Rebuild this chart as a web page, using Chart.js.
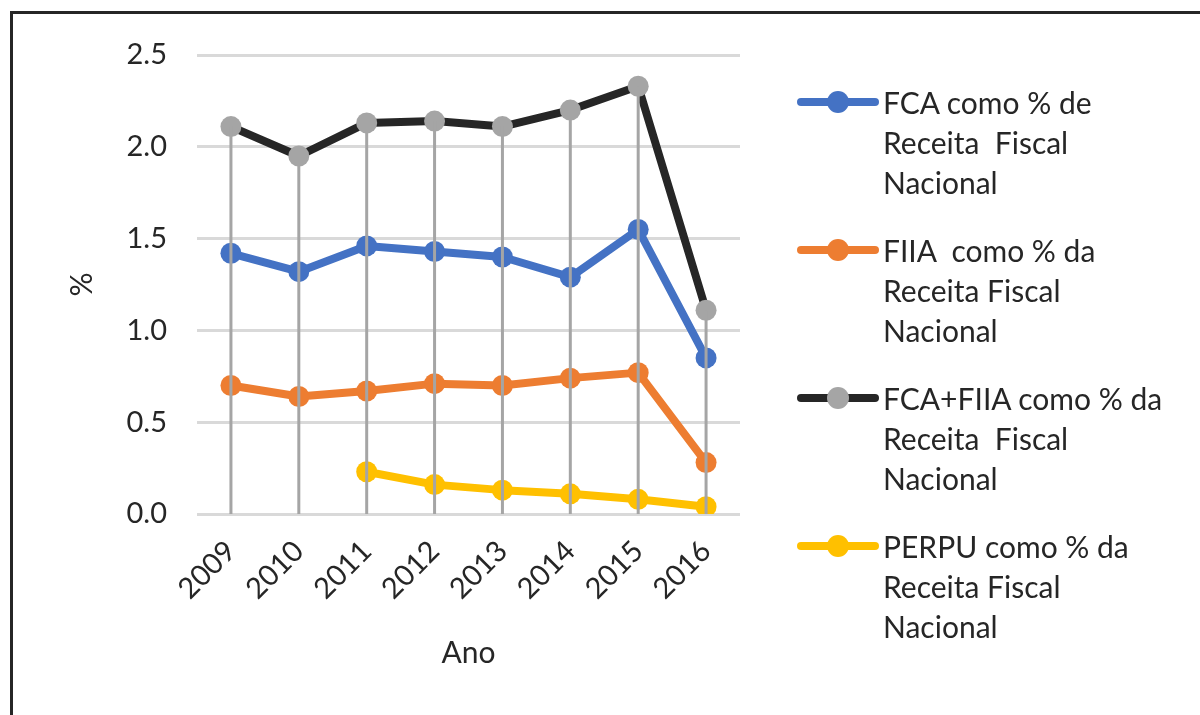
<!DOCTYPE html>
<html>
<head>
<meta charset="utf-8">
<script src="https://cdn.jsdelivr.net/npm/chart.js@4.4.1/dist/chart.umd.min.js"></script>
<style>
  html, body { margin: 0; padding: 0; background: #fff; }
  #wrap { position: relative; width: 1200px; height: 715px; overflow: hidden; }
  #frame { position: absolute; left: 10px; top: 11px; right: -10px; bottom: -10px;
           border-top: 3px solid #262626; border-left: 3px solid #262626; }
  #c { position: absolute; left: 0; top: 0; }
  #legend { position: absolute; left: 797px; top: 82px; font-family: Lato, sans-serif;
            font-size: 30px; line-height: 40px; color: #262626; }
  .item { display: flex; align-items: flex-start; margin-bottom: 28px; }
  .sw { position: relative; width: 82px; height: 40px; flex: none; margin-right: 4px; }
  .sw .ln { position: absolute; left: 0; right: 0; top: 16px; height: 8px; border-radius: 4px; }
  .sw .pt { position: absolute; left: 30px; top: 9px; width: 22px; height: 22px; border-radius: 50%; }
  .txt { white-space: pre; }
</style>
</head>
<body>
<div id="wrap">
  <div id="frame"></div>
  <canvas id="c" width="1200" height="715"></canvas>
  <div id="legend"></div>
</div>
<script>
const years = ['2009', '2010', '2011', '2012', '2013', '2014', '2015', '2016'];
const fca = [1.42, 1.32, 1.46, 1.43, 1.40, 1.29, 1.55, 0.85];
const fiia = [0.70, 0.64, 0.67, 0.71, 0.70, 0.74, 0.77, 0.28];
const total = [2.11, 1.95, 2.13, 2.14, 2.11, 2.20, 2.33, 1.11];
const perpu = [null, null, 0.23, 0.16, 0.13, 0.11, 0.08, 0.04];

const names = [
  'FCA como % de\nReceita  Fiscal\nNacional',
  'FIIA  como % da\nReceita Fiscal\nNacional',
  'FCA+FIIA como % da\nReceita  Fiscal\nNacional',
  'PERPU como % da\nReceita Fiscal\nNacional'
];
const lineColors = ['#4472C4', '#ED7D31', '#262626', '#FFC000'];
const pointColors = ['#4472C4', '#ED7D31', '#A5A5A5', '#FFC000'];
const FONT = 'Lato, sans-serif';
const TXT = '#262626';

const series = [fca, fiia, total, perpu];

// vertical drop lines from the highest point down to zero
const dropLines = {
  id: 'dropLines',
  afterDatasetsDraw(chart) {
    const { ctx, scales: { x, y } } = chart;
    ctx.save();
    ctx.strokeStyle = '#A5A5A5';
    ctx.lineWidth = 3;
    years.forEach((_, i) => {
      const vals = series.map(s => s[i]).filter(v => v != null);
      const top = Math.max(...vals);
      const px = x.getPixelForValue(i);
      ctx.beginPath();
      ctx.moveTo(px, y.getPixelForValue(0));
      ctx.lineTo(px, y.getPixelForValue(top));
      ctx.stroke();
    });
    ctx.restore();
  }
};

new Chart(document.getElementById('c'), {
  type: 'line',
  data: {
    labels: years,
    datasets: series.map((d, i) => ({
      label: names[i],
      data: d,
      borderColor: lineColors[i],
      backgroundColor: pointColors[i],
      pointBackgroundColor: pointColors[i],
      pointBorderWidth: 0,
      pointRadius: 10.5,
      borderWidth: 8,
      borderJoinStyle: 'round',
      borderCapStyle: 'round',
      tension: 0,
      spanGaps: false
    }))
  },
  options: {
    responsive: false,
    animation: false,
    layout: { padding: { left: 60, top: 55, right: 460, bottom: 40 } },
    plugins: { legend: { display: false }, tooltip: { enabled: false } },
    scales: {
      x: {
        offset: true,
        grid: { display: false },
        border: { display: false },
        ticks: { font: { family: FONT, size: 29 }, color: TXT, maxRotation: 45, minRotation: 45, padding: 12 },
        title: { display: true, text: 'Ano', font: { family: FONT, size: 30 }, color: TXT, padding: { top: 10 } },
        afterFit: s => { s.height = 161; }
      },
      y: {
        min: 0, max: 2.5,
        ticks: { stepSize: 0.5, font: { family: FONT, size: 29 }, color: TXT, padding: 30,
                 callback: v => v.toFixed(1) },
        grid: { color: '#D9D9D9', lineWidth: 3, drawTicks: false },
        border: { display: false },
        title: { display: true, text: '%', font: { family: FONT, size: 30 }, color: TXT },
        afterFit: s => { s.width = 137; }
      }
    }
  },
  plugins: [dropLines]
});

// legend on the right, built from the same series names/colours
const lg = document.getElementById('legend');
names.forEach((n, i) => {
  const it = document.createElement('div');
  it.className = 'item';
  it.innerHTML = '<div class="sw"><div class="ln" style="background:' + lineColors[i] + '"></div>' +
    '<div class="pt" style="background:' + pointColors[i] + '"></div></div>' +
    '<div class="txt"></div>';
  it.querySelector('.txt').textContent = n;
  lg.appendChild(it);
});
</script>
</body>
</html>
